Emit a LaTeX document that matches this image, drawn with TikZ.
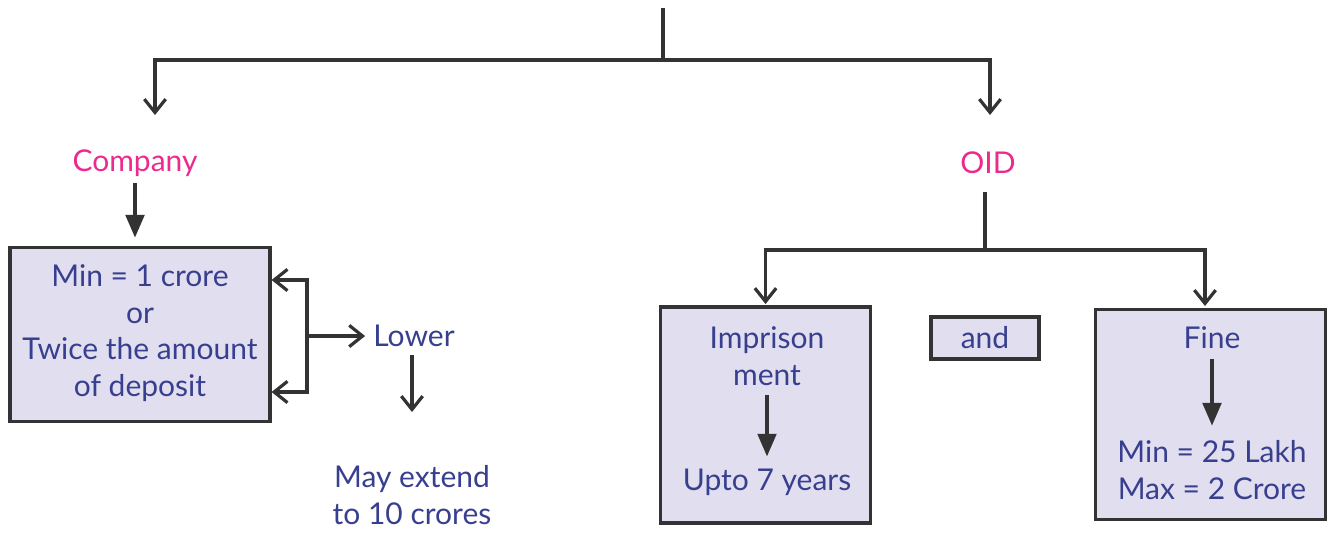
\documentclass[tikz,border=0pt]{standalone}
\usepackage{fontspec}
\setmainfont{Lato}
\usetikzlibrary{arrows.meta,positioning}
\definecolor{boxfill}{HTML}{E1DEF0}
\definecolor{textblue}{HTML}{383F8E}
\definecolor{headpink}{HTML}{EC2A8E}
\definecolor{wire}{HTML}{333333}
\tikzset{
    info-box/.style = {draw=wire, fill=boxfill, line width=2.4pt, rectangle, inner sep=0pt},
    info-text/.style = {text=textblue, align=center, inner sep=1pt, font=\fontsize{22.5}{27.5}\selectfont},
    head-text/.style = {text=headpink, inner sep=1pt, font=\fontsize{22.5}{27.5}\selectfont},
    wire-line/.style = {draw=wire, line width=2.4pt},
    open-arrow/.style = {wire-line, -{Straight Barb[length=10pt,width=16pt,line width=2.4pt]}},
    solid-arrow/.style = {wire-line, -{Triangle[length=17pt,width=14pt]}},
}

\begin{document}
\begin{tikzpicture}[x=0.75pt,y=-0.75pt]
\useasboundingbox (0,0) rectangle (1330,536);
% top split
\coordinate (top) at (663,8);
\coordinate (split) at (663,60);
\coordinate (company-in) at (155,115);
\coordinate (oid-in) at (990,115);
\draw[wire-line] (top) -- (split);
\draw[open-arrow] (split) -| (company-in);
\draw[open-arrow] (split) -| (oid-in);

% company side
\node[head-text] (company) at (135,163) {Company};
\node[info-box, minimum width=195pt, minimum height=131pt] (deposit) at (140,334.5) {};
\node[info-text] (deposit-text) at (140,333) {Min = 1 crore\\or\\Twice the amount\\of deposit};
\draw[solid-arrow, shorten <=4pt, shorten >=6pt] (company.south) -- (company.south |- deposit.north);

\coordinate (fork) at (307,336);
\coordinate (fork-top) at (307,280);
\coordinate (fork-bot) at (307,392);
\node[info-text] (lower) at (414,336) {Lower};
\draw[open-arrow] (fork) |- (deposit.east |- fork-top);
\draw[open-arrow] (fork) |- (deposit.east |- fork-bot);
\draw[open-arrow, shorten >=5pt] (fork) -- (lower.west);
\node[info-text] (extend) at (412,495) {May extend\\to 10 crores};
\coordinate (lower-end) at (412,412);
\draw[open-arrow, shorten <=5pt] (lower.south -| lower-end) -- (lower-end);

% OID side
\node[head-text] (oid) at (988,163) {OID};
\coordinate (oid-split) at (985,250);
\node[info-box, minimum width=157pt, minimum height=162pt] (prison) at (765.5,415) {};
\node[info-box, minimum width=81pt, minimum height=31.5pt] (and) at (985,338) {};
\node[info-box, minimum width=172pt, minimum height=157pt] (fine) at (1210.5,414.5) {};
\draw[wire-line, shorten <=12pt] (oid.south -| oid-split) -- (oid-split);
\draw[open-arrow, shorten >=1pt] (oid-split) -| (prison.north);
\draw[open-arrow, shorten >=3pt] (oid-split) -| (1205,310);

\node[info-text] (and-text) at (and) {and};
\node[info-text] (prison-title) at (767,356) {Imprison\\ment};
\node[info-text] (prison-term) at (767,482) {Upto 7 years};
\draw[solid-arrow, shorten <=6pt, shorten >=8pt] (prison-title.south) -- (prison-term.north);

\node[info-text] (fine-title) at (1212,338) {Fine};
\node[info-text] (fine-range) at (1212,470) {Min = 25 Lakh\\Max = 2 Crore};
\draw[solid-arrow, shorten <=6pt, shorten >=10pt] (fine-title.south) -- (fine-range.north);
\end{tikzpicture}
\end{document}
